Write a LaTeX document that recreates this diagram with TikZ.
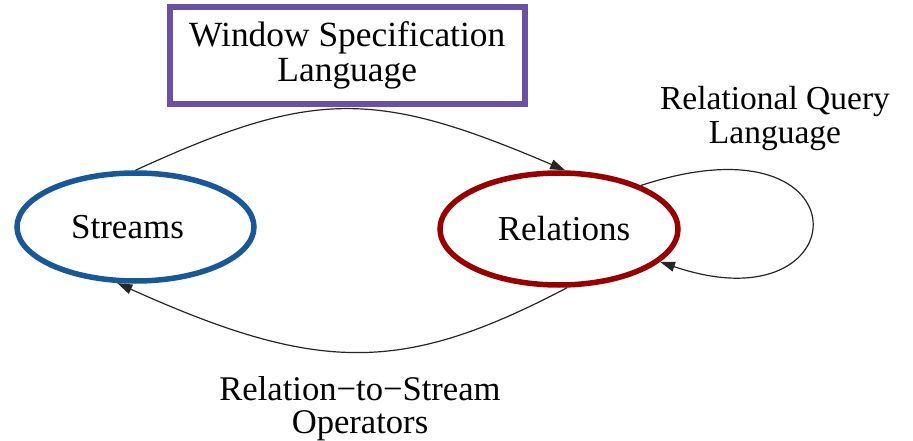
\documentclass[tikz,border=0pt]{standalone}
\usepackage{fontspec}
\setmainfont{Liberation Serif}
\usetikzlibrary{arrows.meta,shapes.geometric}
\definecolor{boxpurple}{RGB}{107,80,168}
\definecolor{streamblue}{RGB}{24,88,152}
\definecolor{relred}{RGB}{152,0,0}
\begin{document}
\begin{tikzpicture}[x=1pt,y=-1pt,
  every node/.style={font=\fontsize{35}{35}\selectfont},
  state/.style={ellipse, draw, line width=5.5pt, inner sep=0pt},
  flow/.style={line width=1.2pt, draw=black!85, -{Triangle[length=15pt,width=10pt]}},
  lbl/.style={align=center, anchor=base}]
\useasboundingbox (0,0) rectangle (913,441);
% the two states
\node[state, draw=streamblue, minimum width=237pt, minimum height=108pt] (s) at (135.5,227) {\hspace*{-16pt}Streams};
\node[state, draw=relred, minimum width=238pt, minimum height=112pt] (r) at (559,229) {Relations\hspace*{-10pt}};
% window specification box
\node[draw=boxpurple, line width=6pt, minimum width=354.5pt, minimum height=97pt,
      inner sep=0pt, align=center, font=\fontsize{35.4}{35}\selectfont] (w) at (347.25,55.5) {Window Specification\\Language};
% connectors
\draw[flow] (s.north) .. controls (313,89) and (375,89) .. (r.84);
\draw[flow] (r.278) .. controls (403,374) and (319,374) .. (s.252);
\draw[flow] (r.28) .. controls (870,110) and (860,330) .. (r.-18);
% edge labels (anchored at the baseline of the last line)
\node[lbl, font=\fontsize{33.5}{33}\selectfont] (q) at (775,143) {Relational Query\\Language};
\node[lbl, font=\fontsize{34.6}{33}\selectfont] (o) at (360,433) {Relation−to−Stream\\Operators};
\end{tikzpicture}
\end{document}
